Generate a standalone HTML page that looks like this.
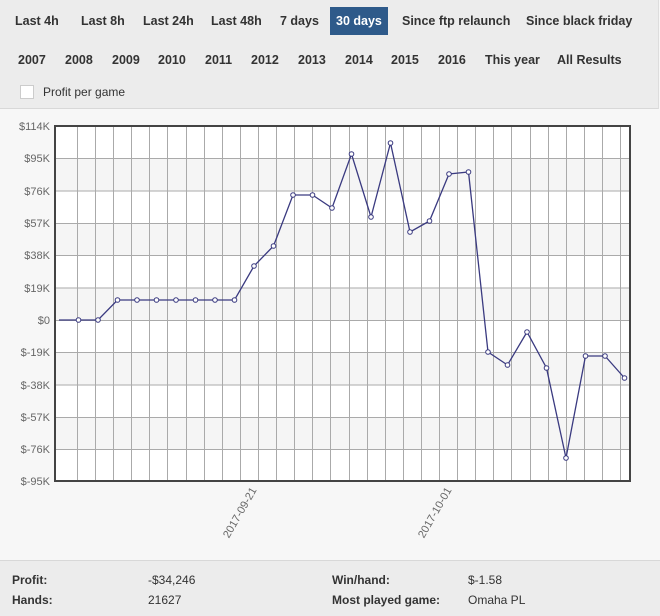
<!DOCTYPE html>
<html><head><style>
body{margin:0;width:660px;height:615px;background:#f7f7f7;font-family:"Liberation Sans",Arial,sans-serif;overflow:hidden;position:relative}
.hdr{position:absolute;left:0;top:0;width:658px;height:108px;background:#ececec;border-bottom:1px solid #d8d8d8;border-right:1px solid #ddd}
.b{position:absolute;font-size:12.5px;font-weight:bold;color:#333;white-space:nowrap}
.sel{background:#2e5a8a;color:#fff;padding:7px 6px;}
.ft{position:absolute;left:0;top:560px;width:660px;height:55px;background:#ececec;border-top:1px solid #d8d8d8}
.f{position:absolute;font-size:12px;color:#333}
.fb{font-weight:bold}
</style></head><body>
<div class="hdr">
<span class="b" style="left:15px;top:14px">Last 4h</span>
<span class="b" style="left:81px;top:14px">Last 8h</span>
<span class="b" style="left:143px;top:14px">Last 24h</span>
<span class="b" style="left:211px;top:14px">Last 48h</span>
<span class="b" style="left:280px;top:14px">7 days</span>
<span class="b sel" style="left:330px;top:7px">30 days</span>
<span class="b" style="left:402px;top:14px">Since ftp relaunch</span>
<span class="b" style="left:526px;top:14px">Since black friday</span>
<span class="b" style="left:18px;top:53px">2007</span>
<span class="b" style="left:65px;top:53px">2008</span>
<span class="b" style="left:112px;top:53px">2009</span>
<span class="b" style="left:158px;top:53px">2010</span>
<span class="b" style="left:205px;top:53px">2011</span>
<span class="b" style="left:251px;top:53px">2012</span>
<span class="b" style="left:298px;top:53px">2013</span>
<span class="b" style="left:345px;top:53px">2014</span>
<span class="b" style="left:391px;top:53px">2015</span>
<span class="b" style="left:438px;top:53px">2016</span>
<span class="b" style="left:485px;top:53px">This year</span>
<span class="b" style="left:557px;top:53px">All Results</span>
<span style="position:absolute;left:20px;top:85px;width:12px;height:12px;background:#fff;border:1px solid #ccc"></span>
<span style="position:absolute;left:43px;top:85px;font-size:12px;color:#333">Profit per game</span>
</div>
<svg width="660" height="615" style="position:absolute;left:0;top:0" font-family="Liberation Sans,Arial,sans-serif">
<rect x="55" y="126" width="575" height="355" fill="#fff"/>
<g fill="#f5f5f5">
<rect x="55" y="158" width="575" height="33"/><rect x="55" y="223" width="575" height="32"/>
<rect x="55" y="288" width="575" height="32"/><rect x="55" y="352" width="575" height="33"/>
<rect x="55" y="417" width="575" height="32"/></g>
<g stroke="#aaa" stroke-width="1" id="vg"></g>
<g stroke="#aaa" stroke-width="1">
<line x1="55" x2="630" y1="158.5" y2="158.5"/><line x1="55" x2="630" y1="191" y2="191"/>
<line x1="55" x2="630" y1="223.5" y2="223.5"/><line x1="55" x2="630" y1="255.5" y2="255.5"/>
<line x1="55" x2="630" y1="288" y2="288"/><line x1="55" x2="630" y1="320.5" y2="320.5"/>
<line x1="55" x2="630" y1="352.5" y2="352.5"/><line x1="55" x2="630" y1="385" y2="385"/>
<line x1="55" x2="630" y1="417.5" y2="417.5"/><line x1="55" x2="630" y1="449.5" y2="449.5"/>
</g>
<rect x="55" y="126" width="575" height="355" fill="none" stroke="#444" stroke-width="2"/>
<g font-size="11" fill="#666" text-anchor="end">
<text x="50" y="130">$114K</text><text x="50" y="162">$95K</text><text x="50" y="195">$76K</text>
<text x="50" y="227">$57K</text><text x="50" y="259">$38K</text><text x="50" y="292">$19K</text>
<text x="50" y="324">$0</text><text x="50" y="356">$-19K</text><text x="50" y="389">$-38K</text>
<text x="50" y="421">$-57K</text><text x="50" y="453">$-76K</text><text x="50" y="485">$-95K</text>
<text transform="translate(257,490) rotate(-60)">2017-09-21</text>
<text transform="translate(452,490) rotate(-60)">2017-10-01</text>
</g>
<polyline id="ln" fill="none" stroke="#3a3a80" stroke-width="1.3"/>
<g id="pts" fill="#fff" stroke="#3a3a80" stroke-width="1"></g>
</svg>
<div class="ft">
<span class="f fb" style="left:12px;top:12px">Profit:</span>
<span class="f" style="left:148px;top:12px">-$34,246</span>
<span class="f fb" style="left:332px;top:12px">Win/hand:</span>
<span class="f" style="left:468px;top:12px">$-1.58</span>
<span class="f fb" style="left:12px;top:32px">Hands:</span>
<span class="f" style="left:148px;top:32px">21627</span>
<span class="f fb" style="left:332px;top:32px">Most played game:</span>
<span class="f" style="left:468px;top:32px">Omaha PL</span>
</div>
<script>
var ns="http://www.w3.org/2000/svg";
var vg=document.getElementById("vg");
for(var x=77;x<629;x+=18.1){var l=document.createElementNS(ns,"line");l.setAttribute("x1",Math.round(x)+.5);l.setAttribute("x2",Math.round(x)+.5);l.setAttribute("y1",126);l.setAttribute("y2",481);vg.appendChild(l);}
var ys=[320,320,320,300,300,300,300,300,300,300,266,246,195,195,208,154,217,143,232,221,174,172,352,365,332,368,458,356,356,378];
var p=[],g=document.getElementById("pts");
for(var i=0;i<ys.length;i++){var x=59+19.5*i;p.push(x+","+ys[i]);if(i>0){var c=document.createElementNS(ns,"circle");c.setAttribute("cx",x);c.setAttribute("cy",ys[i]);c.setAttribute("r",2.3);g.appendChild(c);}}
document.getElementById("ln").setAttribute("points",p.join(" "));
</script>
</body></html>
